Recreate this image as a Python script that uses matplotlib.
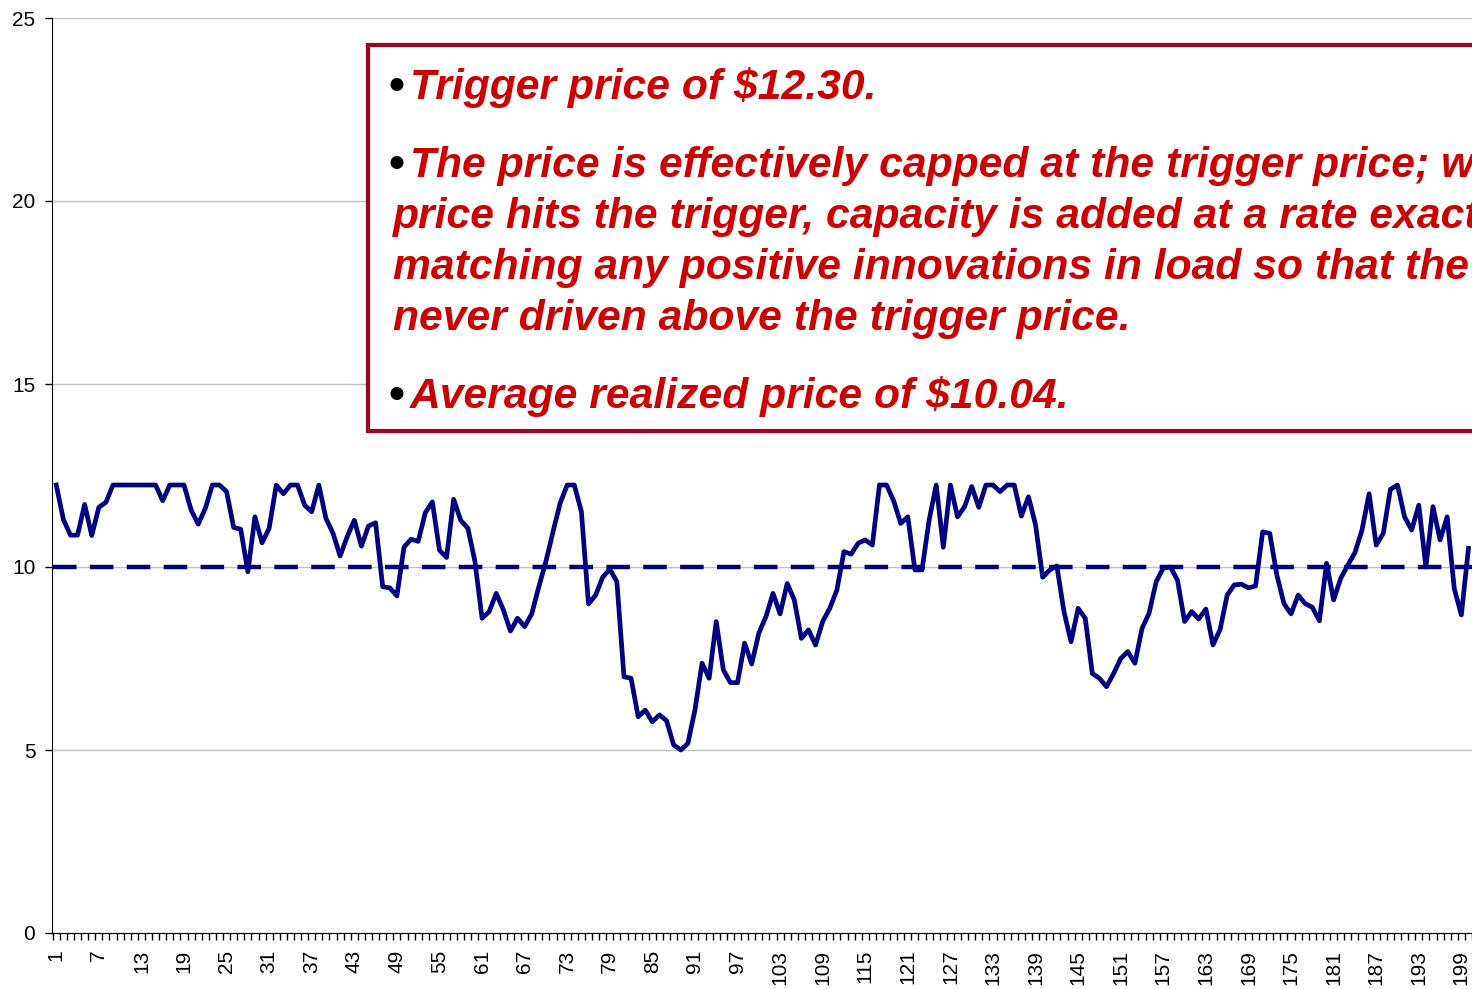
import matplotlib
matplotlib.use("Agg")
import matplotlib.pyplot as plt
import matplotlib.patches as patches
import numpy as np

# realized price per period
price = [
    12.24, 11.30, 10.87, 10.87, 11.71, 10.86, 11.63, 11.77, 12.24, 12.24,
    12.24, 12.24, 12.24, 12.24, 12.24, 11.81, 12.24, 12.24, 12.24, 11.56,
    11.17, 11.60, 12.24, 12.24, 12.06, 11.08, 11.03, 9.87, 11.37, 10.66,
    11.06, 12.24, 12.00, 12.24, 12.24, 11.69, 11.51, 12.24, 11.33, 10.92,
    10.30, 10.83, 11.28, 10.57, 11.12, 11.21, 9.46, 9.43, 9.21, 10.54,
    10.76, 10.70, 11.48, 11.78, 10.46, 10.26, 11.85, 11.27, 11.06, 10.15,
    8.60, 8.78, 9.28, 8.83, 8.25, 8.60, 8.37, 8.72, 9.46, 10.15,
    10.96, 11.74, 12.24, 12.24, 11.51, 8.99, 9.23, 9.72, 9.94, 9.60,
    7.00, 6.96, 5.91, 6.09, 5.77, 5.96, 5.80, 5.14, 5.00, 5.18,
    6.09, 7.37, 6.96, 8.51, 7.19, 6.84, 6.84, 7.92, 7.35, 8.19,
    8.64, 9.28, 8.72, 9.55, 9.10, 8.05, 8.28, 7.87, 8.51, 8.87,
    9.37, 10.42, 10.35, 10.65, 10.74, 10.60, 12.24, 12.24, 11.81, 11.19,
    11.37, 9.92, 9.92, 11.28, 12.24, 10.54, 12.24, 11.37, 11.65, 12.20,
    11.63, 12.24, 12.24, 12.06, 12.24, 12.24, 11.39, 11.92, 11.15, 9.72,
    9.92, 10.03, 8.78, 7.96, 8.87, 8.60, 7.09, 6.96, 6.73, 7.09,
    7.50, 7.69, 7.37, 8.32, 8.74, 9.60, 9.97, 10.00, 9.64, 8.51,
    8.78, 8.58, 8.85, 7.87, 8.29, 9.23, 9.51, 9.53, 9.43, 9.48,
    10.96, 10.92, 9.78, 9.00, 8.72, 9.23, 9.00, 8.90, 8.53, 10.10,
    9.10, 9.69, 10.05, 10.39, 11.01, 12.00, 10.60, 10.92, 12.12, 12.24,
    11.37, 11.01, 11.69, 10.00, 11.65, 10.74, 11.37, 9.41, 8.69, 10.51,
]
periods = list(range(1, len(price) + 1))
avg_line = 10.0

para1 = "Trigger price of $12.30."
para2 = ["The price is effectively capped at the trigger price; when the",
         "price hits the trigger, capacity is added at a rate exactly",
         "matching any positive innovations in load so that the price is",
         "never driven above the trigger price."]
para3 = "Average realized price of $10.04."

W, H = 1472, 989
fig = plt.figure(figsize=(W / 100, H / 100), dpi=100)
ax = fig.add_axes([52 / W, (H - 933) / H, 1 - 52 / W, (933 - 18) / H])

navy = "#000080"
ax.plot(periods, price, color=navy, lw=3.4, solid_joinstyle="round", zorder=3)
ax.plot([0.5, len(price) + 1], [avg_line, avg_line], color=navy, lw=3.2,
        dashes=(5.3, 3.0), zorder=2)

ax.set_ylim(0, 25)
ax.set_xlim(0.4, 199.9)
ax.set_yticks([0, 5, 10, 15, 20, 25])
ax.yaxis.grid(True, color="#c0c0c0", lw=1)
ax.set_axisbelow(True)

ax.set_xticks(periods[::6])
ax.set_xticks(np.arange(0.5, 201, 1), minor=True)
ax.tick_params(axis="x", which="major", length=0, pad=12, labelrotation=90,
               labelsize=15)
ax.tick_params(axis="x", which="minor", length=5, width=1, direction="out")
ax.tick_params(axis="y", length=5, width=1, pad=7, labelsize=15)
for lab in ax.get_xticklabels() + ax.get_yticklabels():
    lab.set_fontfamily("Liberation Sans")

ax.spines["top"].set_visible(False)
ax.spines["right"].set_visible(False)

# annotation box, running off the right edge like the original slide
def fx(x):
    return x / W

def fy(y):
    return 1 - y / H

box = patches.Rectangle((fx(368), fy(431)), fx(1800 - 368), (431 - 45) / H,
                        transform=fig.transFigure, fill=True, facecolor="white",
                        edgecolor="#a50021", lw=3, zorder=5)
fig.patches.append(box)

red = "#cc0000"
fsize = 30.7
style = dict(fontfamily="Liberation Sans", fontweight="bold", fontstyle="italic",
             fontsize=fsize, va="baseline", zorder=6)

def bullet(y):
    fig.text(fx(388), fy(y), "\u2022", color="black", fontfamily="Liberation Sans",
             fontweight="bold", fontsize=fsize + 2, va="baseline", zorder=6)

bullet(99)
fig.text(fx(410), fy(99), para1, color=red, **style)
bullet(177)
for k, line in enumerate(para2):
    x0 = 410 if k == 0 else 393
    fig.text(fx(x0), fy(177 + 51 * k), line, color=red, **style)
bullet(408)
fig.text(fx(410), fy(408), para3, color=red, **style)

fig.savefig("out.png", dpi=100)
